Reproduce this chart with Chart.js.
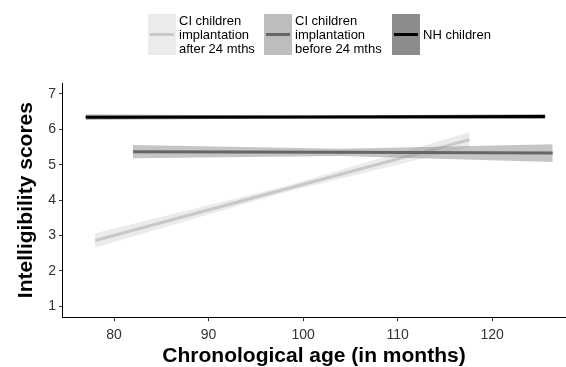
<!DOCTYPE html>
<html><head><meta charset="utf-8">
<script src="https://cdn.jsdelivr.net/npm/chart.js@4"></script>
<style>
html,body{margin:0;padding:0;background:#fff;}
#wrap{position:relative;width:566px;height:367px;font-family:"Liberation Sans",Arial,sans-serif;}
canvas{position:absolute;left:0;top:0;}
.leg{position:absolute;top:14px;height:41px;display:flex;align-items:center;}
.key{width:28px;height:41px;position:relative;}
.key span{position:absolute;left:2px;right:2px;top:19px;height:3px;}
.lt{font-size:13px;line-height:14px;color:#000;margin-left:3px;}
</style></head>
<body><div id="wrap">
<canvas id="c" width="566" height="367"></canvas>
<div class="leg" style="left:148px"><div class="key" style="background:#ebebeb"><span style="background:#c8c8c8"></span></div><div class="lt">CI children<br>implantation<br>after 24 mths</div></div>
<div class="leg" style="left:264px"><div class="key" style="background:#bdbdbd"><span style="background:#666"></span></div><div class="lt">CI children<br>implantation<br>before 24 mths</div></div>
<div class="leg" style="left:392px"><div class="key" style="background:#8c8c8c"><span style="background:#000"></span></div><div class="lt">NH children</div></div>
</div>
<script>
const xTicks=[80,90,100,110,120];
const yTicks=[1,2,3,4,5,6,7];
// CI children implantation after 24 months
const afterX=[78,97.8,117.6];
const afterY=[2.86,4.285,5.71];
const afterLo=[2.66,4.2,5.5];
const afterHi=[3.06,4.37,5.92];
// CI children implantation before 24 months
const beforeX=[82,104,126.4];
const beforeY=[5.37,5.35,5.33];
const beforeLo=[5.18,5.25,5.08];
const beforeHi=[5.56,5.45,5.58];
// NH children
const nhX=[77,101,125.6];
const nhY=[6.345,6.352,6.36];
const nhLo=[6.27,6.31,6.29];
const nhHi=[6.42,6.39,6.43];

const pts=(xs,ys)=>xs.map((x,i)=>({x:x,y:ys[i]}));
let ord=100;
function series(xs,y,lo,hi,band,line){
  return [
    {data:pts(xs,hi),borderWidth:0,pointRadius:0,fill:false,backgroundColor:band,order:ord--},
    {data:pts(xs,lo),borderWidth:0,pointRadius:0,fill:'-1',backgroundColor:band,order:ord--},
    {data:pts(xs,y),borderWidth:3,borderColor:line,pointRadius:0,fill:false,order:ord--}
  ];
}
const datasets=[
  ...series(afterX,afterY,afterLo,afterHi,'rgba(205,205,205,0.4)','#c8c8c8'),
  ...series(beforeX,beforeY,beforeLo,beforeHi,'rgba(150,150,150,0.55)','#666666'),
  ...series(nhX,nhY,nhLo,nhHi,'rgba(110,110,110,0.6)','#000000')
];
new Chart(document.getElementById('c'),{
  type:'line',
  data:{datasets:datasets},
  options:{
    responsive:false,animation:false,
    layout:{padding:{top:83,right:1,left:14,bottom:0}},
    plugins:{legend:{display:false},tooltip:{enabled:false}},
    elements:{line:{tension:0}},
    scales:{
      x:{type:'linear',min:74.6,max:127.7,
        afterBuildTicks:s=>{s.ticks=xTicks.map(v=>({value:v}));},
        grid:{drawOnChartArea:false,drawTicks:true,tickLength:4,color:'#333'},
        border:{display:true,color:'#000',width:1},
        ticks:{color:'#333',font:{family:'Liberation Sans',size:14},padding:6,maxRotation:0},
        title:{display:true,text:'Chronological age (in months)',color:'#000',font:{family:'Liberation Sans',size:21,weight:'bold',lineHeight:1},padding:{top:-4,bottom:0}}},
      y:{type:'linear',min:0.69,max:7.31,
        afterBuildTicks:s=>{s.ticks=yTicks.map(v=>({value:v}));},
        grid:{drawOnChartArea:false,drawTicks:true,tickLength:4,color:'#333'},
        border:{display:true,color:'#000',width:1},
        ticks:{color:'#333',font:{family:'Liberation Sans',size:14},padding:3},
        title:{display:true,text:'Intelligibility scores',color:'#000',font:{family:'Liberation Sans',size:21,weight:'bold'},padding:{top:0,bottom:6}}}
    }
  }
});
</script>
</body></html>
